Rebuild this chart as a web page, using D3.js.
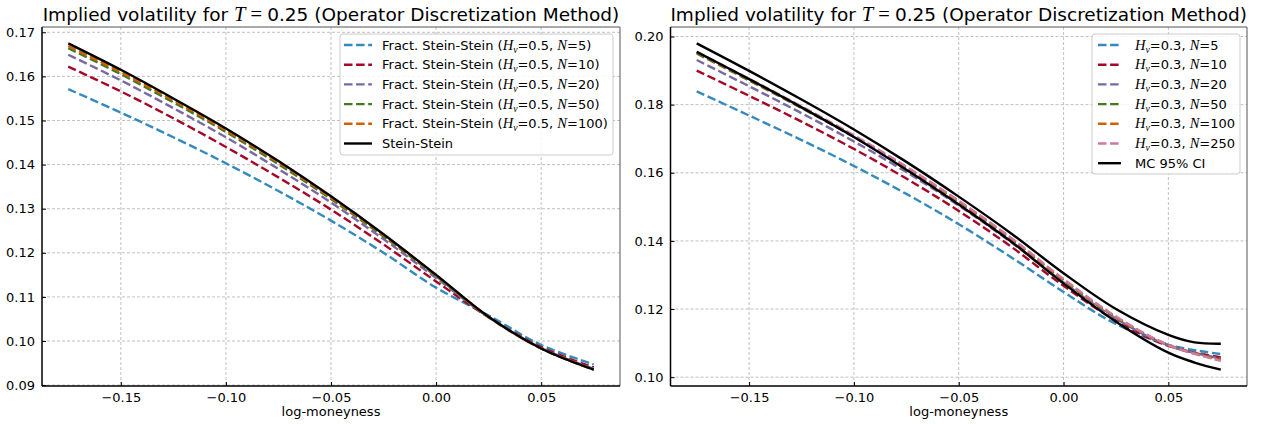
<!DOCTYPE html>
<html>
<head>
<meta charset="utf-8">
<script src="https://cdn.jsdelivr.net/npm/d3@7"></script>
<style>
  body { margin: 0; background: #fff; }
  text { font-family: "DejaVu Sans", sans-serif; }
</style>
</head>
<body>
<svg id="chart" width="1262" height="424"></svg>
<script>
// log-moneyness grid for the discretized curves
var logK = [-0.175, -0.15, -0.125, -0.10, -0.075, -0.05, -0.025, 0.0, 0.025, 0.05, 0.075];

// left panel: H = 0.5 against plain Stein-Stein
var leftH = 0.5;
var leftN = [5, 10, 20, 50, 100];
var leftVols = [
  [0.1571, 0.1518, 0.1462, 0.1403, 0.1340, 0.1273, 0.1200, 0.1121, 0.1058, 0.0991, 0.0947],
  [0.1622, 0.1566, 0.1505, 0.1440, 0.1371, 0.1298, 0.1219, 0.1135, 0.1054, 0.0986, 0.0940],
  [0.1649, 0.1591, 0.1528, 0.1462, 0.1390, 0.1314, 0.1231, 0.1143, 0.1054, 0.0984, 0.0937],
  [0.1664, 0.1605, 0.1541, 0.1474, 0.1401, 0.1322, 0.1237, 0.1147, 0.1054, 0.0983, 0.0935],
  [0.1669, 0.1610, 0.1546, 0.1478, 0.1405, 0.1325, 0.1240, 0.1149, 0.1055, 0.0983, 0.0935]
];
var steinStein = [0.1675, 0.1615, 0.1550, 0.1482, 0.1408, 0.1328, 0.1242, 0.1150, 0.1055, 0.0983, 0.0935];

// right panel: H = 0.3 against Monte Carlo band
var rightH = 0.3;
var rightN = [5, 10, 20, 50, 100, 250];
var rightVols = [
  [0.1839, 0.1768, 0.1696, 0.1620, 0.1538, 0.1449, 0.1352, 0.1250, 0.1156, 0.1095, 0.1068],
  [0.1900, 0.1826, 0.1750, 0.1670, 0.1583, 0.1488, 0.1383, 0.1268, 0.1166, 0.1092, 0.1058],
  [0.1931, 0.1854, 0.1775, 0.1692, 0.1602, 0.1504, 0.1396, 0.1278, 0.1172, 0.1093, 0.1055],
  [0.1950, 0.1871, 0.1790, 0.1705, 0.1613, 0.1513, 0.1404, 0.1284, 0.1175, 0.1094, 0.1052],
  [0.1953, 0.1874, 0.1793, 0.1708, 0.1616, 0.1516, 0.1407, 0.1286, 0.1177, 0.1094, 0.1050],
  [0.1955, 0.1876, 0.1795, 0.1710, 0.1618, 0.1518, 0.1409, 0.1288, 0.1178, 0.1094, 0.1048]
];
var mcK = [-0.175, -0.15, -0.125, -0.10, -0.075, -0.05, -0.025, 0.0, 0.025, 0.05, 0.0625, 0.075];
var mcUpper = [0.1980, 0.1899, 0.1815, 0.1727, 0.1632, 0.1530, 0.1422, 0.1305, 0.1200, 0.1124, 0.1102, 0.1098];
var mcLower = [0.1955, 0.1875, 0.1792, 0.1705, 0.1609, 0.1507, 0.1398, 0.1275, 0.1163, 0.1072, 0.1043, 0.1022];

var colors = ["#348ABD", "#A60628", "#7A68A6", "#467821", "#D55E00", "#CC79A7"];
var xTicks = [-0.15, -0.10, -0.05, 0.00, 0.05];
var leftYTicks = [0.09, 0.10, 0.11, 0.12, 0.13, 0.14, 0.15, 0.16, 0.17];
var rightYTicks = [0.10, 0.12, 0.14, 0.16, 0.18, 0.20];

var svg = d3.select("#chart");
var mathFont = "'Liberation Serif', 'DejaVu Serif', serif";
var lineW = 2.4;
var dash = "8.5,3.6";

// writes label pieces: plain text, math italic, subscript
function writeParts(sel, parts, size) {
  parts.forEach(function (p) {
    var t = sel.append("tspan").text(p[0]);
    if (p[1] == "m") {
      t.attr("font-family", mathFont).attr("font-style", "italic").attr("font-size", size + 1.5);
    } else if (p[1] == "sub") {
      t.attr("font-family", mathFont).attr("font-style", "italic")
        .attr("font-size", size * 0.75).attr("dy", 3);
    } else if (p[1] == "after") {
      t.attr("dy", -3);
    }
  });
}

function hLabel(prefix, h, n) {
  return [[prefix + "", ""], ["H", "m"], ["ν", "sub"], ["=" + h + ", ", "after"], ["N", "m"], ["=" + n + (prefix ? ")" : ""), ""]];
}

function drawPanel(p) {
  var all = [];
  p.series.forEach(function (s) { all = all.concat(s.ys); });
  var ext = d3.extent(all), pad = (ext[1] - ext[0]) * 0.05;
  var xExt = d3.extent(logK), xPad = (xExt[1] - xExt[0]) * 0.05;

  var x = d3.scaleLinear().domain([xExt[0] - xPad, xExt[1] + xPad]).range([p.x0, p.x1]);
  var y = d3.scaleLinear().domain([ext[0] - pad, ext[1] + pad]).range([p.y1, p.y0]);

  var g = svg.append("g");

  // grid
  g.append("g").selectAll("line").data(xTicks).enter().append("line")
    .attr("x1", function (d) { return x(d); }).attr("x2", function (d) { return x(d); })
    .attr("y1", p.y0).attr("y2", p.y1)
    .attr("stroke", "#b0b0b0").attr("stroke-width", 0.8).attr("stroke-dasharray", "3,2");
  g.append("g").selectAll("line").data(p.yTicks).enter().append("line")
    .attr("y1", function (d) { return y(d); }).attr("y2", function (d) { return y(d); })
    .attr("x1", p.x0).attr("x2", p.x1)
    .attr("stroke", "#b0b0b0").attr("stroke-width", 0.8).attr("stroke-dasharray", "3,2");

  // curves
  p.series.forEach(function (s) {
    var line = d3.line()
      .x(function (d, i) { return x(s.xs[i]); })
      .y(function (d) { return y(d); })
      .curve(d3.curveCatmullRom.alpha(0.5));
    g.append("path").datum(s.ys)
      .attr("d", line)
      .attr("fill", "none")
      .attr("stroke", s.color)
      .attr("stroke-width", lineW)
      .attr("stroke-dasharray", s.dashed ? dash : null);
  });

  // axes, ticks pointing in
  var xAxis = g.append("g").attr("transform", "translate(0," + p.y1 + ")")
    .call(d3.axisBottom(x).tickValues(xTicks).tickFormat(d3.format(".2f")).tickSizeInner(-4).tickSizeOuter(0).tickPadding(7));
  var yAxis = g.append("g").attr("transform", "translate(" + p.x0 + ",0)")
    .call(d3.axisLeft(y).tickValues(p.yTicks).tickFormat(d3.format(".2f")).tickSizeInner(-4).tickSizeOuter(0).tickPadding(7));
  [xAxis, yAxis].forEach(function (a) {
    a.select(".domain").remove();
    a.selectAll("text").attr("font-size", 13).attr("fill", "#000").attr("font-family", "DejaVu Sans");
    a.selectAll("line").attr("stroke", "#000");
  });

  // spines
  g.append("line").attr("x1", p.x0).attr("x2", p.x1).attr("y1", p.y0).attr("y2", p.y0).attr("stroke", "#555").attr("stroke-width", 1);
  g.append("line").attr("x1", p.x1).attr("x2", p.x1).attr("y1", p.y0).attr("y2", p.y1).attr("stroke", "#555").attr("stroke-width", 1);
  g.append("line").attr("x1", p.x0).attr("x2", p.x1).attr("y1", p.y1).attr("y2", p.y1).attr("stroke", "#000").attr("stroke-width", 1.5);
  g.append("line").attr("x1", p.x0).attr("x2", p.x0).attr("y1", p.y0).attr("y2", p.y1).attr("stroke", "#000").attr("stroke-width", 1.5);

  // title
  var title = g.append("text").attr("x", (p.x0 + p.x1) / 2).attr("y", 21)
    .attr("text-anchor", "middle").attr("font-size", 18.5);
  title.append("tspan").text("Implied volatility for ");
  title.append("tspan").text("T").attr("font-family", mathFont).attr("font-style", "italic").attr("font-size", 20.5);
  title.append("tspan").text(" = ").attr("font-family", mathFont).attr("font-size", 20.5);
  title.append("tspan").text("0.25 (Operator Discretization Method)");

  g.append("text").attr("x", (p.x0 + p.x1) / 2).attr("y", 416)
    .attr("text-anchor", "middle").attr("font-size", 13).text("log-moneyness");

  // legend
  var L = p.legend;
  var lx = p.x1 - 7 - L.w, ly = p.y0 + 7;
  g.append("rect").attr("x", lx).attr("y", ly).attr("width", L.w).attr("height", L.h)
    .attr("rx", 3).attr("fill", "#fff").attr("fill-opacity", 0.85)
    .attr("stroke", "#cccccc").attr("stroke-width", 1);
  L.items.forEach(function (it, i) {
    var cy = ly + 11 + i * 19.7;
    g.append("line").attr("x1", lx + L.hx0).attr("x2", lx + L.hx1).attr("y1", cy).attr("y2", cy)
      .attr("stroke", it.color).attr("stroke-width", lineW)
      .attr("stroke-dasharray", it.dashed ? dash : null);
    var t = g.append("text").attr("x", lx + L.tx).attr("y", cy + 4.6).attr("font-size", 13);
    writeParts(t, it.parts, 13);
  });
}

// left panel
var leftSeries = leftN.map(function (n, i) {
  return { xs: logK, ys: leftVols[i], color: colors[i], dashed: true };
});
leftSeries.push({ xs: logK, ys: steinStein, color: "#000", dashed: false });
var leftItems = leftN.map(function (n, i) {
  return { color: colors[i], dashed: true, parts: hLabel("Fract. Stein-Stein (", leftH, n) };
});
leftItems.push({ color: "#000", dashed: false, parts: [["Stein-Stein", ""]] });

drawPanel({
  x0: 42, x1: 620, y0: 27, y1: 386,
  series: leftSeries, yTicks: leftYTicks,
  legend: { w: 273, h: 121, hx0: 4, hx1: 32, tx: 42, items: leftItems }
});

// right panel
var rightSeries = rightN.map(function (n, i) {
  return { xs: logK, ys: rightVols[i], color: colors[i], dashed: true };
});
rightSeries.push({ xs: mcK, ys: mcUpper, color: "#000", dashed: false });
rightSeries.push({ xs: mcK, ys: mcLower, color: "#000", dashed: false });
var rightItems = rightN.map(function (n, i) {
  return { color: colors[i], dashed: true, parts: hLabel("", rightH, n) };
});
rightItems.push({ color: "#000", dashed: false, parts: [["MC 95% CI", ""]] });

drawPanel({
  x0: 670.5, x1: 1247, y0: 27, y1: 386,
  series: rightSeries, yTicks: rightYTicks,
  legend: { w: 148, h: 140, hx0: 6, hx1: 29, tx: 43, items: rightItems }
});
</script>
</body>
</html>
